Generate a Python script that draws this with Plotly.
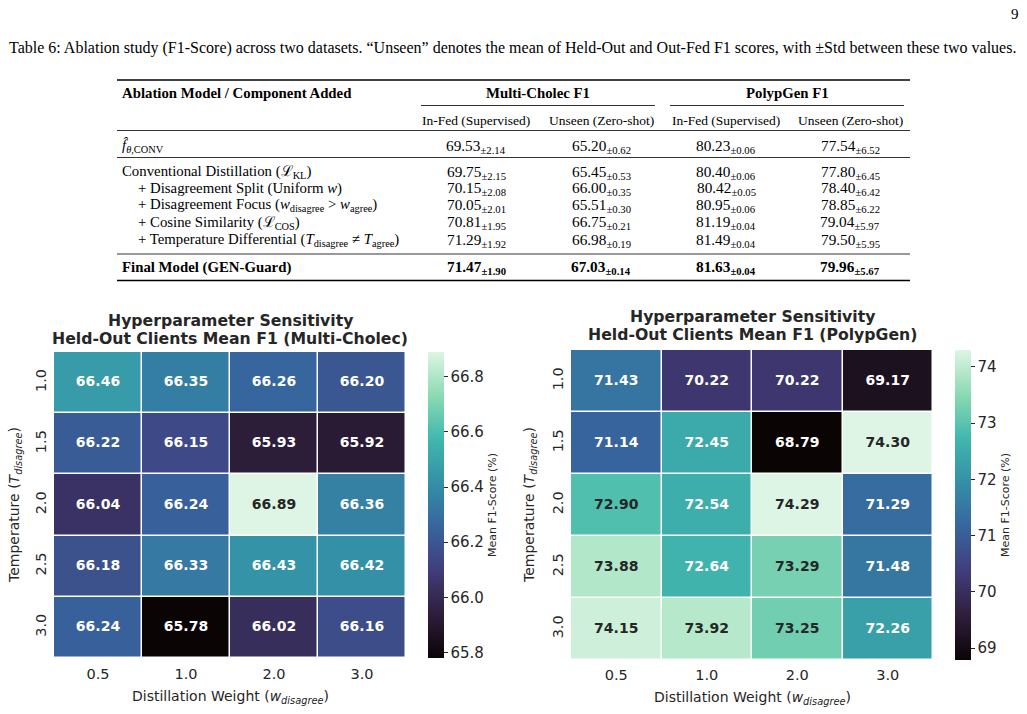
import plotly.graph_objects as go

W, H = 1027, 714
def px(x): return x / W
def py(y): return 1 - y / H

# ---------------- data ----------------
temps = ["1.0", "1.5", "2.0", "2.5", "3.0"]
weights = ["0.5", "1.0", "2.0", "3.0"]
mc_f1 = [
    [66.46, 66.35, 66.26, 66.20],
    [66.22, 66.15, 65.93, 65.92],
    [66.04, 66.24, 66.89, 66.36],
    [66.18, 66.33, 66.43, 66.42],
    [66.24, 65.78, 66.02, 66.16],
]
pg_f1 = [
    [71.43, 70.22, 70.22, 69.17],
    [71.14, 72.45, 68.79, 74.30],
    [72.90, 72.54, 74.29, 71.29],
    [73.88, 72.64, 73.29, 71.48],
    [74.15, 73.92, 73.25, 72.26],
]

row_labels = [
    "<i>f̂</i><sub><i>θ</i>,CONV</sub>",
    "Conventional Distillation (ℒ<sub>KL</sub>)",
    "   + Disagreement Split (Uniform <i>w</i>)",
    "   + Disagreement Focus (<i>w</i><sub>disagree</sub> &gt; <i>w</i><sub>agree</sub>)",
    "   + Cosine Similarity (ℒ<sub>COS</sub>)",
    "   + Temperature Differential (<i>T</i><sub>disagree</sub> ≠ <i>T</i><sub>agree</sub>)",
    "<b>Final Model (GEN-Guard)</b>",
]
mc_infed = [69.53, 69.75, 70.15, 70.05, 70.81, 71.29, 71.47]
mc_infed_std = [2.14, 2.15, 2.08, 2.01, 1.95, 1.92, 1.90]
mc_unseen = [65.20, 65.45, 66.00, 65.51, 66.75, 66.98, 67.03]
mc_unseen_std = [0.62, 0.53, 0.35, 0.30, 0.21, 0.19, 0.14]
pg_infed = [80.23, 80.40, 80.42, 80.95, 81.19, 81.49, 81.63]
pg_infed_std = [0.06, 0.06, 0.05, 0.06, 0.04, 0.04, 0.04]
pg_unseen = [77.54, 77.80, 78.40, 78.85, 79.04, 79.50, 79.96]
pg_unseen_std = [6.52, 6.45, 6.42, 6.22, 5.97, 5.95, 5.67]

caption = ("Table 6: Ablation study (F1-Score) across two datasets. “Unseen” denotes the mean of "
           "Held-Out and Out-Fed F1 scores, with ±Std between these two values.")

# ---------------- styles ----------------
mako = [
    [0.0, "#0B0405"], [1/7, "#2E1E3B"], [2/7, "#413D7B"], [3/7, "#37659E"],
    [4/7, "#348FA7"], [5/7, "#40B7AD"], [6/7, "#8BDAB2"], [1.0, "#DEF5E5"],
]
DARK = "#262626"
SANS = "DejaVu Sans"
SERIF = "Liberation Serif"

def hex2rgb(h):
    h = h.lstrip("#")
    return [int(h[i:i+2], 16) / 255 for i in (0, 2, 4)]

def cmap(t):
    t = min(max(t, 0), 1)
    for (a, ca), (b, cb) in zip(mako[:-1], mako[1:]):
        if a <= t <= b:
            f = (t - a) / (b - a) if b > a else 0
            c1, c2 = hex2rgb(ca), hex2rgb(cb)
            return [c1[i] + f * (c2[i] - c1[i]) for i in range(3)]
    return hex2rgb(mako[-1][1])

def lum(rgb):
    lin = [c / 12.92 if c <= 0.03928 else ((c + 0.055) / 1.055) ** 2.4 for c in rgb]
    return 0.2126 * lin[0] + 0.7152 * lin[1] + 0.0722 * lin[2]

fig = go.Figure()

def add_heatmap(z, xa, ya, cb_x, cb_y0, cb_y1, dtick, tickfmt):
    zmin = min(min(r) for r in z)
    zmax = max(max(r) for r in z)
    fig.add_trace(go.Heatmap(
        z=z, x=weights, y=temps, xaxis=xa, yaxis=ya,
        colorscale=mako, zmin=zmin, zmax=zmax, xgap=1.5, ygap=1.5,
        hoverinfo="skip",
        colorbar=dict(
            x=px(cb_x), xanchor="left", y=py((cb_y0 + cb_y1) / 2), yanchor="middle",
            len=(cb_y1 - cb_y0) / H, lenmode="fraction", thickness=16, thicknessmode="pixels",
            xpad=0, ypad=0, outlinewidth=0, ticks="outside", ticklen=4, tickcolor=DARK,
            tickfont=dict(family=SANS, size=15, color=DARK), dtick=dtick, tickformat=tickfmt,
            title=dict(text="Mean F1-Score (%)", side="right",
                       font=dict(family=SANS, size=11, color=DARK)),
        ),
    ))
    xs, ys, txt, cols = [], [], [], []
    for i, t in enumerate(temps):
        for j, w in enumerate(weights):
            v = z[i][j]
            xs.append(w); ys.append(t)
            txt.append(f"<b>{v:.2f}</b>")
            cols.append(DARK if lum(cmap((v - zmin) / (zmax - zmin))) > 0.408 else "white")
    fig.add_trace(go.Scatter(
        x=xs, y=ys, mode="text", text=txt, xaxis=xa, yaxis=ya,
        textfont=dict(family=SANS, size=14, color=cols), hoverinfo="skip", showlegend=False,
    ))

add_heatmap(mc_f1, "x", "y", 428, 352, 658, 0.2, ".1f")
add_heatmap(pg_f1, "x2", "y2", 955, 350, 660, 1, "d")

axis_common = dict(type="category", showgrid=False, zeroline=False, showline=False, ticks="",
                   tickfont=dict(family=SANS, size=14.5, color=DARK))
fig.update_layout(
    width=W, height=H, margin=dict(l=0, r=0, t=0, b=0),
    paper_bgcolor="white", plot_bgcolor="white", showlegend=False,
    xaxis=dict(domain=[px(54), px(406)], anchor="y", ticklabelstandoff=5, **axis_common),
    yaxis=dict(domain=[py(658), py(352)], anchor="x", autorange="reversed", tickangle=-90,
               ticklabelstandoff=4, **axis_common),
    xaxis2=dict(domain=[px(571), px(933)], anchor="y2", ticklabelstandoff=4, **axis_common),
    yaxis2=dict(domain=[py(660), py(350)], anchor="x2", autorange="reversed", tickangle=-90,
                ticklabelstandoff=4, **axis_common),
)

ann = []
def text(x, y, s, size=14, family=SERIF, anchor="center", color="black", angle=0):
    ann.append(dict(x=px(x), y=py(y), xref="paper", yref="paper", text=s, showarrow=False,
                    xanchor=anchor, yanchor="middle", textangle=angle,
                    font=dict(family=family, size=size, color=color)))

# page number & caption
text(1015, 14, "9", size=15)
text(512, 48, caption, size=16)

# table header
text(120, 93, "<b>Ablation Model / Component Added</b>", size=14.8, anchor="left")
text(538, 93, "<b>Multi-Cholec F1</b>", size=14.8)
text(787, 93, "<b>PolypGen F1</b>", size=14.8)
col_x = [476, 601, 726, 850]
for cx, s in zip(col_x, ["In-Fed (Supervised)", "Unseen (Zero-shot)",
                         "In-Fed (Supervised)", "Unseen (Zero-shot)"]):
    text(cx, 120, s, size=13.5)

row_y = [146.5, 172, 189, 205.5, 222.5, 240, 267]
cols_data = [(mc_infed, mc_infed_std), (mc_unseen, mc_unseen_std),
             (pg_infed, pg_infed_std), (pg_unseen, pg_unseen_std)]
for r, (lab, ry) in enumerate(zip(row_labels, row_y)):
    indent = lab.startswith("   ")
    text(136 if indent else 120, ry, lab.strip(), size=14.8, anchor="left")
    for cx, (vals, stds) in zip(col_x, cols_data):
        s = f"{vals[r]:.2f}<sub>±{stds[r]:.2f}</sub>"
        if r == len(row_labels) - 1:
            s = f"<b>{s}</b>"
        text(cx, ry, s, size=15.3)

# heatmap titles and axis titles
text(230, 320, "<b>Hyperparameter Sensitivity</b>", size=15.7, family=SANS, color=DARK)
text(230, 338, "<b>Held-Out Clients Mean F1 (Multi-Cholec)</b>", size=15.7, family=SANS, color=DARK)
text(752, 316, "<b>Hyperparameter Sensitivity</b>", size=15.7, family=SANS, color=DARK)
text(752, 334, "<b>Held-Out Clients Mean F1 (PolypGen)</b>", size=15.7, family=SANS, color=DARK)

ytitle = "Temperature (<i>T</i><sub><i>disagree</i></sub>)"
xtitle = "Distillation Weight (<i>w</i><sub><i>disagree</i></sub>)"
text(15, 505, ytitle, size=14, family=SANS, color=DARK, angle=-90)
text(530, 505, ytitle, size=14, family=SANS, color=DARK, angle=-90)
text(230, 697, xtitle, size=14, family=SANS, color=DARK)
text(752, 698, xtitle, size=14, family=SANS, color=DARK)

fig.update_layout(annotations=ann)

# table rules
def hline(x0, x1, y, w):
    fig.add_shape(type="line", xref="paper", yref="paper", x0=px(x0), x1=px(x1),
                  y0=py(y), y1=py(y), line=dict(color="black", width=w))

hline(117, 910, 80, 1.5)
hline(421, 655, 105.5, 0.8)
hline(670, 904, 105.5, 0.8)
hline(117, 910, 130.5, 0.8)
hline(117, 910, 157.5, 0.8)
hline(117, 910, 254, 0.8)
hline(117, 910, 280.5, 1.5)

fig.write_html("out.html")
